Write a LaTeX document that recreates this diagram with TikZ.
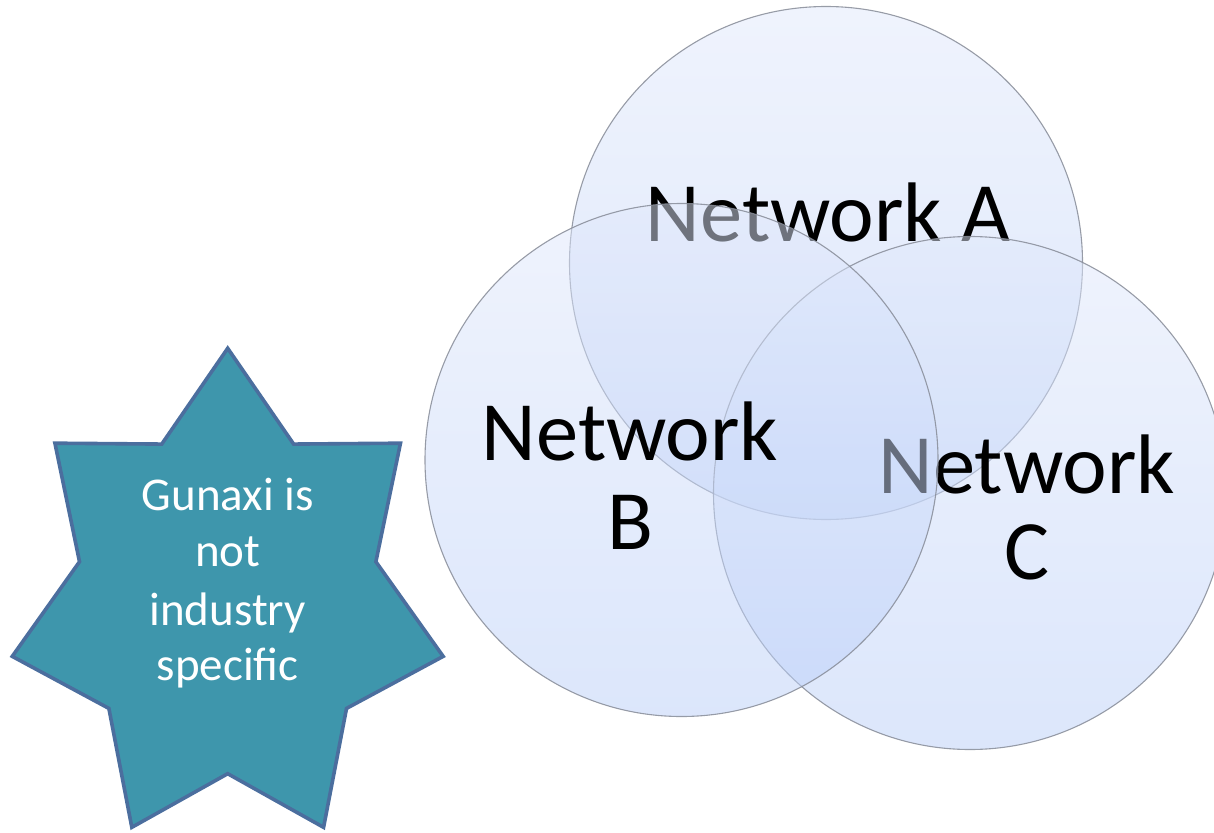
\documentclass[tikz,border=0pt]{standalone}
\usepackage{fontspec}
\setmainfont{Carlito}
\definecolor{starfill}{RGB}{62,150,172}
\definecolor{starline}{RGB}{75,110,158}
\definecolor{ringtop}{RGB}{224,232,251}
\definecolor{ringbot}{RGB}{185,206,248}
\definecolor{ringline}{RGB}{135,140,152}
\begin{document}
\begin{tikzpicture}[x=1pt,y=-1pt,
  ring/.style={circle, minimum size=513pt, inner sep=0pt, top color=ringtop, bottom color=ringbot,
    fill opacity=0.5, draw=ringline, draw opacity=0.85, line width=1.1pt},
  nettext/.style={anchor=base, font=\fontsize{84.5}{88}\selectfont, text=black, inner sep=0pt},
  startext/.style={anchor=base, font=\fontsize{47}{56}\selectfont, text=white, inner sep=0pt},
  starshape/.style={fill=starfill, draw=starline, line width=3.6pt, line join=miter}]
\useasboundingbox (0,0) rectangle (1214,832);
% seven-pointed star
\begin{scope}[shift={(227.7,600.3)}]
\draw[starshape] (90:221pt and 252pt) -- (115.714:152pt and 173.4pt)
  -- (141.429:221pt and 252pt) -- (167.143:152pt and 173.4pt)
  -- (192.857:221pt and 252pt) -- (218.571:152pt and 173.4pt)
  -- (244.286:221pt and 252pt) -- (270:152pt and 173.4pt)
  -- (295.714:221pt and 252pt) -- (321.429:152pt and 173.4pt)
  -- (347.143:221pt and 252pt) -- (12.857:152pt and 173.4pt)
  -- (38.571:221pt and 252pt) -- (64.286:152pt and 173.4pt) -- cycle;
\end{scope}
\node[startext] (s1) at (227.7,510) {Gunaxi is};
\node[startext] (s2) at (227.7,566) {not};
\node[startext] (s3) at (227.7,625) {industry};
\node[startext] (s4) at (227.7,680) {specific};
% circles
\node[ring] (A) at (826,263) {};
\node[nettext] (la) at (828,241.7) {Network A};
\node[ring] (C) at (970,493) {};
\node[nettext] (lc1) at (1026.7,493.3) {Network};
\node[nettext] (lc2) at (1026.7,579.3) {C};
\node[ring] (B) at (681.5,460) {};
\node[nettext] (lb1) at (630,460.7) {Network};
\node[nettext] (lb2) at (630,549.3) {B};
\end{tikzpicture}
\end{document}
